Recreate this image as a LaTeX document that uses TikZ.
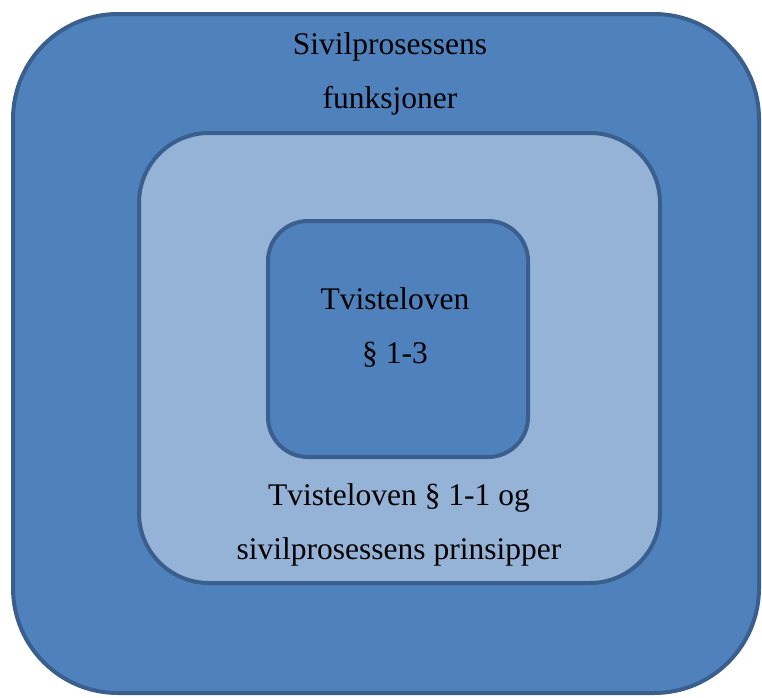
\documentclass[tikz,border=0pt]{standalone}
\usepackage{fontspec}
\setmainfont{Liberation Serif}
\usepackage{xcolor}
\usepackage{tikz}
\definecolor{boxdark}{HTML}{4F81BD}
\definecolor{boxlight}{HTML}{95B3D7}
\definecolor{boxline}{HTML}{3A5F8E}
\tikzset{
  box/.style    = {draw=boxline, line width=4pt, inner sep=0pt},
  darkbox/.style  = {box, fill=boxdark},
  lightbox/.style = {box, fill=boxlight},
  lbl/.style    = {align=center, text=black,
                   font=\fontsize{31.5}{54}\selectfont},
}

\begin{document}
\begin{tikzpicture}[x=1pt, y=-1pt]
    \useasboundingbox (0,0) rectangle (762,697);
    % nested boxes, outermost first
    \node[darkbox,  rounded corners=105pt, minimum width=746pt, minimum height=679pt] (outer)  at (386,353.5) {};
    \node[lightbox, rounded corners=70pt,  minimum width=521pt, minimum height=450pt] (middle) at (399.5,358) {};
    \node[darkbox,  rounded corners=40pt,  minimum width=260pt, minimum height=236pt] (inner)  at (398,339) {};
    % labels
    \node[lbl] (outerlbl)  at (390,74)  {Sivilprosessens\\funksjoner};
    \node[lbl] (innerlbl)  at (395,328) {Tvisteloven\\§ 1-3};
    \node[lbl] (middlelbl) at (399,525) {Tvisteloven § 1-1 og\\sivilprosessens prinsipper};
\end{tikzpicture}
\end{document}
